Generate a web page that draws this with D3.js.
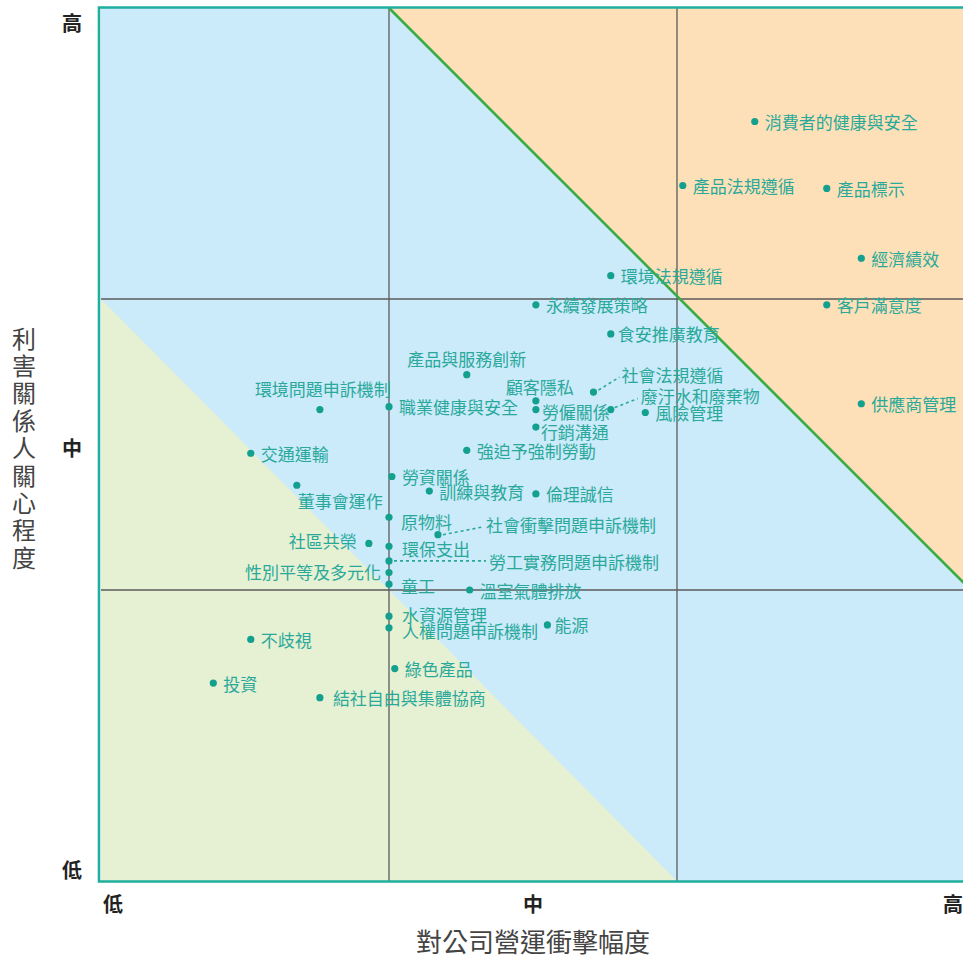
<!DOCTYPE html>
<html lang="zh-Hant">
<head>
<meta charset="utf-8">
<title>重大性矩陣</title>
<script src="https://d3js.org/d3.v7.min.js"></script>
<style>
  body { margin: 0; background: #fff; }
  svg text { font-family: "Noto Sans CJK TC", "Noto Sans", sans-serif; }
</style>
</head>
<body>
<script>
// window size setup
var w = 963
var h = 958

// topics: impact on operations (x) and stakeholder concern (y), 0 (低) .. 3 (高)
var topics = ["消費者的健康與安全", "產品法規遵循", "產品標示", "經濟績效", "客戶滿意度",
              "供應商管理", "環境法規遵循", "永續發展策略", "食安推廣教育", "產品與服務創新",
              "顧客隱私", "社會法規遵循", "廢汙水和廢棄物", "勞僱關係", "風險管理",
              "行銷溝通", "職業健康與安全", "環境問題申訴機制", "交通運輸", "強迫予強制勞動",
              "勞資關係", "董事會運作", "訓練與教育", "倫理誠信", "原物料",
              "社會衝擊問題申訴機制", "社區共榮", "環保支出", "勞工實務問題申訴機制", "性別平等及多元化",
              "童工", "溫室氣體排放", "水資源管理", "人權問題申訴機制", "能源",
              "不歧視", "綠色產品", "投資", "結社自由與集體協商"]
var impact = [2.27, 2.02, 2.52, 2.64, 2.52,
              2.64, 1.77, 1.51, 1.77, 1.27,
              1.51, 1.71, 1.77, 1.51, 1.89,
              1.51, 1.00, 0.76, 0.52, 1.27,
              1.01, 0.68, 1.14, 1.51, 1.00,
              1.17, 0.93, 1.00, 1.00, 1.00,
              1.00, 1.28, 1.00, 1.00, 1.55,
              0.52, 1.02, 0.39, 0.76]
var concern = [2.61, 2.39, 2.38, 2.14, 1.98,
               1.64, 2.08, 1.98, 1.88, 1.74,
               1.65, 1.68, 1.62, 1.62, 1.61,
               1.56, 1.63, 1.62, 1.47, 1.48,
               1.39, 1.36, 1.34, 1.33, 1.25,
               1.19, 1.16, 1.15, 1.10, 1.06,
               1.02, 1.00, 0.91, 0.87, 0.88,
               0.83, 0.73, 0.68, 0.63]

var levelLabels = ["低", "中", "高"]
var levelValues = [0, 1.5, 3]
var xTitle = "對公司營運衝擊幅度"
var yTitle = "利害關係人關心程度"

// zones (data units)
var highZone = [[1, 3], [3, 1.02], [3, 3]]
var lowZone = [[0, 2], [2, 0], [0, 0]]

// label placement: [anchor, dx, dy, leader]
var labelLayout = {
  "產品與服務創新": ["middle", 0, -16],
  "顧客隱私": ["end", 38, -14],
  "社會法規遵循": ["start", 28, -18, [5, -2, 26, -15]],
  "廢汙水和廢棄物": ["start", 30, -14, [4, -2, 27, -11]],
  "勞僱關係": ["start", 6, 2],
  "行銷溝通": ["start", 5, 4],
  "環境問題申訴機制": ["end", 71, -21],
  "董事會運作": ["start", 1, 15],
  "原物料": ["start", 12, 4],
  "社會衝擊問題申訴機制": ["start", 48, -10, [5, 0, 46, -8]],
  "社區共榮": ["end", -12, -3],
  "環保支出": ["start", 13, 2],
  "勞工實務問題申訴機制": ["start", 100, 1, [5, 0, 97, 0]],
  "性別平等及多元化": ["end", -8, -1],
  "童工": ["start", 12, 1],
  "水資源管理": ["start", 13, -2],
  "人權問題申訴機制": ["start", 13, 3],
  "能源": ["start", 7, 0],
  "食安推廣教育": ["start", 7, 0],
  "結社自由與集體協商": ["start", 13, 0]
}

var dataSet = topics.map(function(d, i){
  return { name: d, x: impact[i], y: concern[i] }
})

// scale setup
var xScale = d3.scaleLinear().domain([0, 3]).range([101, 965])
var yScale = d3.scaleLinear().domain([0, 3]).range([881, 8])

var svg = d3.select("body")
            .append("svg")
            .attr("width", w)
            .attr("height", h)

var line = d3.line()
             .x(function(d){ return xScale(d[0]) })
             .y(function(d){ return yScale(d[1]) })

// background zones
svg.append("rect")
   .attr("x", xScale(0))
   .attr("y", yScale(3))
   .attr("width", xScale(3) - xScale(0))
   .attr("height", yScale(0) - yScale(3))
   .attr("fill", "#cbeafa")

svg.append("path")
   .attr("d", line(highZone) + "Z")
   .attr("fill", "#fde0b7")

svg.append("path")
   .attr("d", line(lowZone) + "Z")
   .attr("fill", "#e6f0d2")

// grid lines at thirds
svg.selectAll(".vgrid")
   .data([1, 2])
   .enter()
   .append("line")
   .attr("x1", function(d){ return xScale(d) })
   .attr("x2", function(d){ return xScale(d) })
   .attr("y1", yScale(3))
   .attr("y2", yScale(0))
   .attr("stroke", "#5b5b5b")
   .attr("stroke-width", 1.3)

svg.selectAll(".hgrid")
   .data([1, 2])
   .enter()
   .append("line")
   .attr("x1", xScale(0))
   .attr("x2", xScale(3))
   .attr("y1", function(d){ return yScale(d) })
   .attr("y2", function(d){ return yScale(d) })
   .attr("stroke", "#5b5b5b")
   .attr("stroke-width", 1.3)

// diagonal boundary of the high zone
svg.append("path")
   .attr("d", line(highZone.slice(0, 2)))
   .attr("fill", "none")
   .attr("stroke", "#3aab45")
   .attr("stroke-width", 2.6)

// frame (left, top, bottom)
svg.append("path")
   .attr("d", "M" + (xScale(3) + 20) + "," + (yScale(3) - 0.5) +
              "H" + (xScale(0) - 2) +
              "V" + (yScale(0) + 0.5) +
              "H" + (xScale(3) + 20))
   .attr("fill", "none")
   .attr("stroke", "#1fae9f")
   .attr("stroke-width", 2.6)

// leaders
var teal = "#2aa99a"
svg.selectAll(".leader")
   .data(dataSet.filter(function(d){ return labelLayout[d.name] && labelLayout[d.name][3] }))
   .enter()
   .append("line")
   .attr("x1", function(d){ return xScale(d.x) + labelLayout[d.name][3][0] })
   .attr("y1", function(d){ return yScale(d.y) + labelLayout[d.name][3][1] })
   .attr("x2", function(d){ return xScale(d.x) + labelLayout[d.name][3][2] })
   .attr("y2", function(d){ return yScale(d.y) + labelLayout[d.name][3][3] })
   .attr("stroke", teal)
   .attr("stroke-width", 1.6)
   .attr("stroke-dasharray", "3,3")

// points
svg.selectAll("circle")
   .data(dataSet)
   .enter()
   .append("circle")
   .attr("cx", function(d){ return xScale(d.x) })
   .attr("cy", function(d){ return yScale(d.y) })
   .attr("r", 3.6)
   .attr("fill", "#13a08f")

svg.selectAll(".label")
   .data(dataSet)
   .enter()
   .append("text")
   .attr("class", "label")
   .text(function(d){ return d.name })
   .attr("text-anchor", function(d){ return labelLayout[d.name] ? labelLayout[d.name][0] : "start" })
   .attr("x", function(d){ return xScale(d.x) + (labelLayout[d.name] ? labelLayout[d.name][1] : 10) })
   .attr("y", function(d){ return yScale(d.y) + (labelLayout[d.name] ? labelLayout[d.name][2] : 0) })
   .attr("dominant-baseline", "central")
   .attr("font-size", "17px")
   .attr("fill", teal)

// level labels
svg.selectAll(".xlevel")
   .data(levelLabels)
   .enter()
   .append("text")
   .text(function(d){ return d })
   .attr("text-anchor", "middle")
   .attr("dominant-baseline", "central")
   .attr("x", function(d, i){ return xScale(levelValues[i]) + [12, 0, -12][i] })
   .attr("y", 903)
   .attr("font-size", "20px")
   .attr("font-weight", "bold")
   .attr("fill", "#222")

svg.selectAll(".ylevel")
   .data(levelLabels)
   .enter()
   .append("text")
   .text(function(d){ return d })
   .attr("text-anchor", "middle")
   .attr("dominant-baseline", "central")
   .attr("x", 72)
   .attr("y", function(d, i){ return yScale(levelValues[i]) + [-12, 3, 14][i] })
   .attr("font-size", "20px")
   .attr("font-weight", "bold")
   .attr("fill", "#222")

// axis titles
svg.append("text")
   .text(xTitle)
   .attr("text-anchor", "middle")
   .attr("dominant-baseline", "central")
   .attr("x", (xScale(0) + xScale(3)) / 2)
   .attr("y", 940)
   .attr("font-size", "26px")
   .attr("fill", "#444")

svg.selectAll(".ytitle")
   .data(yTitle.split(""))
   .enter()
   .append("text")
   .text(function(d){ return d })
   .attr("text-anchor", "middle")
   .attr("dominant-baseline", "central")
   .attr("x", 24)
   .attr("y", function(d, i){ return 337 + i * 27.4 })
   .attr("font-size", "24px")
   .attr("fill", "#444")
</script>
</body>
</html>
